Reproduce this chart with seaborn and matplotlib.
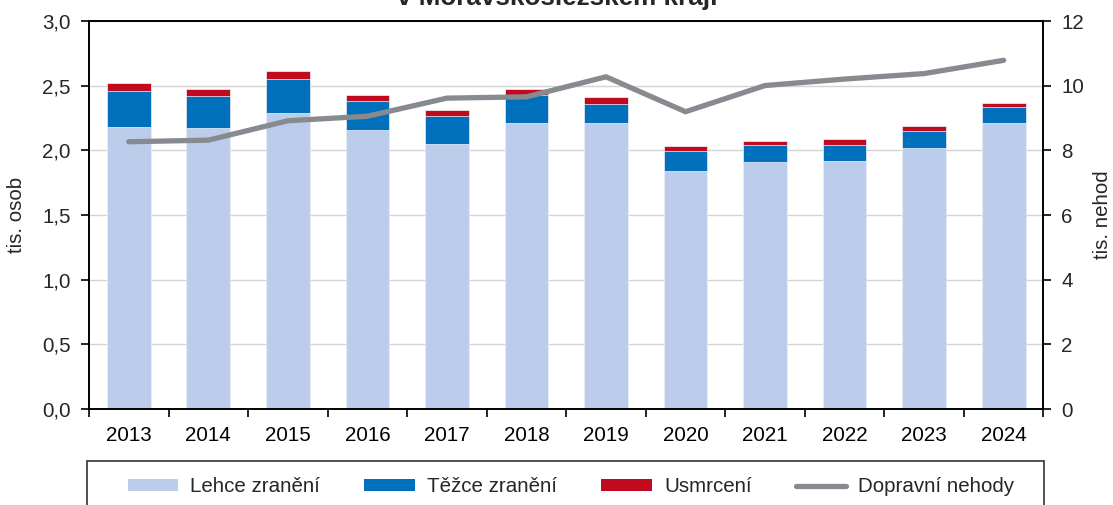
import numpy as np
import pandas as pd
import matplotlib
matplotlib.use("Agg")
import matplotlib.pyplot as plt
from matplotlib.patches import Patch, Rectangle
from matplotlib.lines import Line2D
from matplotlib.ticker import FuncFormatter, MultipleLocator, FixedLocator
import seaborn as sns

# data (tis. osob / tis. nehod)
years = ["2013", "2014", "2015", "2016", "2017", "2018",
         "2019", "2020", "2021", "2022", "2023", "2024"]
lehce = [2.180, 2.174, 2.287, 2.156, 2.048, 2.213, 2.213, 1.842, 1.909, 1.917, 2.017, 2.213]
tezce = [0.277, 0.250, 0.269, 0.227, 0.222, 0.214, 0.149, 0.154, 0.134, 0.126, 0.137, 0.123]
usmrceni = [0.065, 0.054, 0.056, 0.046, 0.043, 0.051, 0.054, 0.042, 0.034, 0.044, 0.038, 0.031]
nehody = [8.27, 8.32, 8.92, 9.06, 9.62, 9.66, 10.28, 9.20, 10.01, 10.21, 10.38, 10.79]

c_light = "#bccdeb"
c_blue = "#0070bd"
c_red = "#c00a1e"
c_line = "#878b90"

df = pd.DataFrame({"rok": years, "lehce": lehce, "tezce": tezce, "usmrceni": usmrceni})
df["do_tezce"] = df["lehce"] + df["tezce"]
df["celkem"] = df["do_tezce"] + df["usmrceni"]

sns.set_theme(style="ticks")
plt.rcParams["font.family"] = ["Liberation Sans", "DejaVu Sans"]
fs = 14.8

fig, ax = plt.subplots(figsize=(11.13, 5.05), dpi=100)
fig.subplots_adjust(left=0.080, right=0.9375, bottom=0.19, top=0.958)

# stacked bars drawn as cumulative totals
bar_kw = dict(width=0.55, edgecolor="#f4f6fb", linewidth=0.5, ax=ax)
sns.barplot(data=df, x="rok", y="celkem", color=c_red, saturation=1, **bar_kw)
sns.barplot(data=df, x="rok", y="do_tezce", color=c_blue, saturation=1, **bar_kw)
sns.barplot(data=df, x="rok", y="lehce", color=c_light, saturation=1, **bar_kw)

ax.set_xlim(-0.5, 11.5)
ax.set_ylim(0, 3)
ax.yaxis.set_major_locator(MultipleLocator(0.5))
ax.yaxis.set_major_formatter(FuncFormatter(lambda v, p: f"{v:.1f}".replace(".", ",")))
ax.set_axisbelow(True)
ax.yaxis.grid(True, color="#d4d4d4", linewidth=1)
ax.xaxis.grid(False)
ax.set_xlabel("")
ax.set_ylabel("tis. osob", fontsize=fs)
ax.yaxis.set_label_coords(-0.066, 0.5)

ax.xaxis.set_minor_locator(FixedLocator(np.arange(-0.5, 12, 1)))
ax.tick_params(axis="x", which="major", length=0, pad=12, labelsize=fs, colors="black")
ax.tick_params(axis="x", which="minor", length=6, width=1.2, direction="out", color="black")
ax.tick_params(axis="y", length=6, width=1.2, direction="out", pad=7, labelsize=fs, color="black")

for s in ["left", "right", "bottom", "top"]:
    ax.spines[s].set_visible(True)
    ax.spines[s].set_color("black")
    ax.spines[s].set_linewidth(1.2)

# secondary axis with accidents
ax2 = ax.twinx()
sns.lineplot(x=np.arange(len(years)), y=nehody, ax=ax2, color=c_line, linewidth=3.8,
             solid_capstyle="round", solid_joinstyle="miter")
ax2.set_ylim(0, 12)
ax2.yaxis.set_major_locator(MultipleLocator(2))
ax2.grid(False)
ax2.set_ylabel("tis. nehod", fontsize=fs)
ax2.yaxis.set_label_coords(1.052, 0.5)
ax2.tick_params(axis="y", length=6, width=1.2, direction="out", pad=7, labelsize=fs, color="black")
for s in ax2.spines.values():
    s.set_color("black")
    s.set_linewidth(1.2)

# title (upper part cut off as in the source)
fig.text(0.5005, 1 - 5 / 505, "v Moravskoslezském kraji", ha="center", va="baseline",
         fontsize=18.7, fontweight="bold")

# legend
handles = [
    Patch(facecolor=c_light, edgecolor="none"),
    Patch(facecolor=c_blue, edgecolor="none"),
    Patch(facecolor=c_red, edgecolor="none"),
    Line2D([0], [0], color=c_line, linewidth=3.8, solid_capstyle="round"),
]
labels = ["Lehce zranění", "Těžce zranění", "Usmrcení", "Dopravní nehody"]
fig.legend(handles, labels, ncol=4, loc="center", bbox_to_anchor=(0.513, 1 - 487 / 505),
           frameon=False, fontsize=fs, handlelength=2.45, handleheight=0.52,
           handletextpad=0.6, columnspacing=2.15)
fig.patches.append(Rectangle((87 / 1113, -0.05), (1044 - 87) / 1113, 0.05 + 1 - 461 / 505,
                             transform=fig.transFigure, fill=False, edgecolor="#333333",
                             linewidth=1.2, clip_on=False))

fig.savefig("out.png", dpi=100)
